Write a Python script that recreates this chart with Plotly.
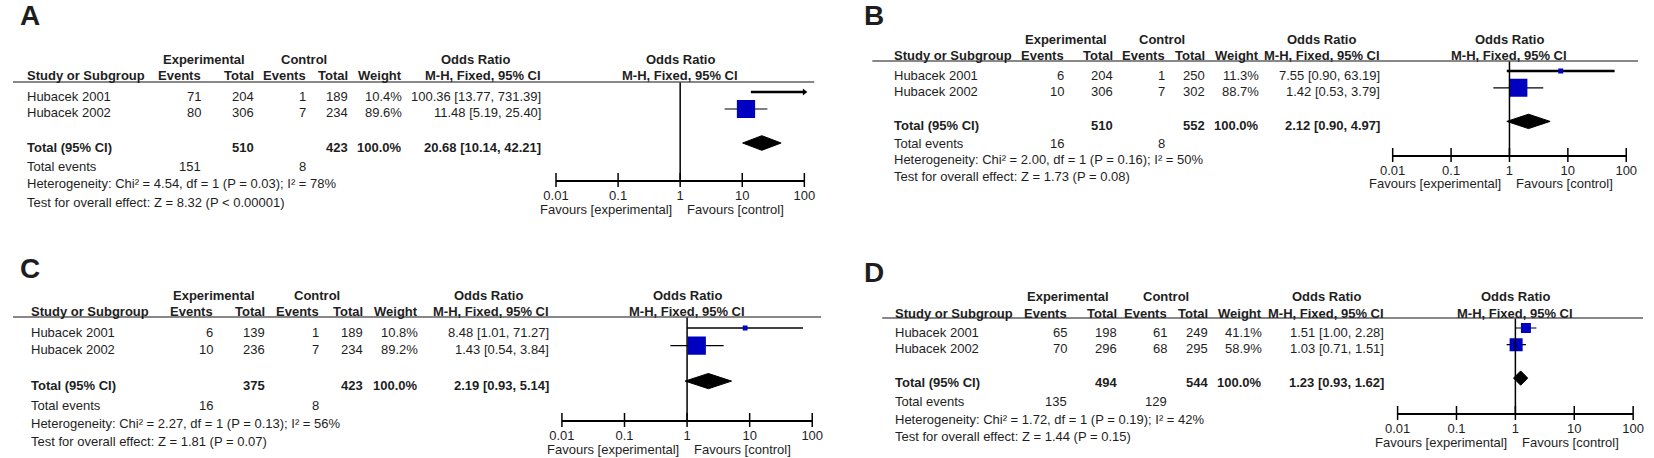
import math
import plotly.graph_objects as go

W, H = 1654, 458

# ---- data (A, B, C, D) ----
panel_labels = ["A", "B", "C", "D"]
studies = ["Hubacek 2001", "Hubacek 2002"]

exp_events = [[71, 80], [6, 10], [6, 10], [65, 70]]
exp_total = [[204, 306], [204, 306], [139, 236], [198, 296]]
ctl_events = [[1, 7], [1, 7], [1, 7], [61, 68]]
ctl_total = [[189, 234], [250, 302], [189, 234], [249, 295]]
weights = [[10.4, 89.6], [11.3, 88.7], [10.8, 89.2], [41.1, 58.9]]
odds = [[100.36, 11.48], [7.55, 1.42], [8.48, 1.43], [1.51, 1.03]]
ci_low = [[13.77, 5.19], [0.90, 0.53], [1.01, 0.54], [1.00, 0.71]]
ci_high = [[731.39, 25.40], [63.19, 3.79], [71.27, 3.84], [2.28, 1.51]]

pooled_or = [20.68, 2.12, 2.19, 1.23]
pooled_low = [10.14, 0.90, 0.93, 0.93]
pooled_high = [42.21, 4.97, 5.14, 1.62]
sum_exp_total = [510, 510, 375, 494]
sum_ctl_total = [423, 552, 423, 544]
sum_exp_events = [151, 16, 16, 135]
sum_ctl_events = [8, 8, 8, 129]
chi2 = [4.54, 2.00, 2.27, 1.72]
het_df = [1, 1, 1, 1]
het_p = ["0.03", "0.16", "0.13", "0.19"]
i2 = [78, 50, 56, 42]
z_overall = [8.32, 1.73, 1.81, 1.44]
p_overall = ["P < 0.00001", "P = 0.08", "P = 0.07", "P = 0.15"]

tick_vals = [0.01, 0.1, 1, 10, 100]
tick_text = ["0.01", "0.1", "1", "10", "100"]

# ---- pixel layout of each panel ----
# cols = right edges of: exp events, exp total, ctl events, ctl total, weight, OR text
geo = [
    dict(letter=(5, 15), line_x=(0, 813), study_x=12, cols=[193, 247, 299, 342, 397, 538],
         exp_c=194, ctl_c=295, or_c=469, plot_x=(551, 803), ci_w=[2.4, 1.2],
         hdr1=59, hdr2=76, top=82, r1=96, rowh=17, tev=166, het=183, test=202, axis=180, fav=209),
    dict(letter=(862, 15), line_x=(872, 1649), study_x=892, cols=[1069, 1118, 1171, 1212, 1266, 1389],
         exp_c=1068, ctl_c=1166, or_c=1328, plot_x=(1400, 1637), ci_w=[2.4, 1.2],
         hdr1=39, hdr2=55, top=61, r1=75, rowh=16.8, tev=143, het=160, test=177, axis=155, fav=183),
    dict(letter=(5, 268), line_x=(0, 820), study_x=16, cols=[205, 258, 313, 357, 413, 546],
         exp_c=204, ctl_c=308, or_c=482, plot_x=(557, 811), ci_w=[1.6, 1.2],
         hdr1=295, hdr2=311, top=317, r1=332, rowh=17.7, tev=405, het=423, test=441, axis=420, fav=449),
    dict(letter=(862, 272), line_x=(882, 1654), study_x=893, cols=[1072, 1122, 1173, 1215, 1269, 1393],
         exp_c=1071, ctl_c=1170, or_c=1333, plot_x=(1405, 1644), ci_w=[1.2, 1.2],
         hdr1=296, hdr2=313, top=318, r1=332, rowh=16.7, tev=401, het=419, test=436, axis=413, fav=442),
]
MARK_DY = -4  # the plotted marks sit a few pixels above the text rows

FONT = "Arial, Liberation Sans, sans-serif"
TXT = "#1e1e1e"
BLUE = "#0000c0"

fig = go.Figure()
annotations = []
shapes = []


def px(x):
    return x / W


def py(y):
    return 1 - y / H


def add_text(x, y, s, anchor="left", bold=False, size=13):
    annotations.append(dict(
        xref="paper", yref="paper", x=px(x), y=py(y), showarrow=False,
        text=f"<b>{s}</b>" if bold else s, xanchor=anchor, yanchor="middle",
        font=dict(family=FONT, size=size, color=TXT)))


layout_axes = {}
for k in range(4):
    g = geo[k]
    xa = "x" if k == 0 else f"x{k + 1}"
    ya = "y" if k == 0 else f"y{k + 1}"
    row_y = [g["r1"] + i * g["rowh"] for i in (0, 1)]
    tot_y = g["r1"] + 3 * g["rowh"]
    c = g["cols"]

    # panel letter
    add_text(g["letter"][0], g["letter"][1], panel_labels[k], bold=True, size=28)

    # headers
    add_text(g["exp_c"], g["hdr1"], "Experimental", anchor="center", bold=True)
    add_text(g["ctl_c"], g["hdr1"], "Control", anchor="center", bold=True)
    add_text(g["or_c"], g["hdr1"], "Odds Ratio", anchor="center", bold=True)
    add_text(g["study_x"], g["hdr2"], "Study or Subgroup", bold=True)
    for col, lab in zip(c, ["Events", "Total", "Events", "Total", "Weight", "M-H, Fixed, 95% CI"]):
        add_text(col, g["hdr2"], lab, anchor="right", bold=True)
    shapes.append(dict(type="line", xref="paper", yref="paper",
                       x0=px(g["line_x"][0]), x1=px(g["line_x"][1]),
                       y0=py(g["top"]), y1=py(g["top"]),
                       line=dict(color="#606060", width=1.5)))

    # study rows
    for i in range(2):
        y = row_y[i]
        add_text(g["study_x"], y, studies[i])
        vals = [str(exp_events[k][i]), str(exp_total[k][i]), str(ctl_events[k][i]),
                str(ctl_total[k][i]), f"{weights[k][i]:.1f}%",
                f"{odds[k][i]:.2f} [{ci_low[k][i]:.2f}, {ci_high[k][i]:.2f}]"]
        for col, v in zip(c, vals):
            add_text(col, y, v, anchor="right")

    # total row
    add_text(g["study_x"], tot_y, "Total (95% CI)", bold=True)
    add_text(c[1], tot_y, str(sum_exp_total[k]), anchor="right", bold=True)
    add_text(c[3], tot_y, str(sum_ctl_total[k]), anchor="right", bold=True)
    add_text(c[4], tot_y, "100.0%", anchor="right", bold=True)
    add_text(c[5], tot_y, f"{pooled_or[k]:.2f} [{pooled_low[k]:.2f}, {pooled_high[k]:.2f}]",
             anchor="right", bold=True)

    add_text(g["study_x"], g["tev"], "Total events")
    add_text(c[0], g["tev"], str(sum_exp_events[k]), anchor="right")
    add_text(c[2], g["tev"], str(sum_ctl_events[k]), anchor="right")
    add_text(g["study_x"], g["het"],
             f"Heterogeneity: Chi² = {chi2[k]:.2f}, df = {het_df[k]} (P = {het_p[k]}); I² = {i2[k]}%")
    add_text(g["study_x"], g["test"], f"Test for overall effect: Z = {z_overall[k]:.2f} ({p_overall[k]})")

    # ---- forest plot on a log axis (row index on y) ----
    r1_mark = g["r1"] + MARK_DY
    y_bottom = (g["axis"] - r1_mark) / g["rowh"]
    y_top = (g["top"] - r1_mark) / g["rowh"]
    xmax = tick_vals[-1]

    for i in range(2):
        hi = min(ci_high[k][i], xmax)
        fig.add_trace(go.Scatter(x=[ci_low[k][i], hi], y=[i, i], mode="lines",
                                 line=dict(color="black", width=g["ci_w"][i]),
                                 xaxis=xa, yaxis=ya, hoverinfo="skip"))
        if ci_high[k][i] > xmax:
            fig.add_trace(go.Scatter(x=[xmax], y=[i], mode="markers", cliponaxis=False,
                                     marker=dict(symbol="triangle-right", size=6, color="black"),
                                     xaxis=xa, yaxis=ya, hoverinfo="skip"))
        fig.add_trace(go.Scatter(x=[odds[k][i]], y=[i], mode="markers",
                                 marker=dict(symbol="square", size=3 + 0.17 * weights[k][i],
                                             color=BLUE, line=dict(width=0)),
                                 xaxis=xa, yaxis=ya, hoverinfo="skip"))

    h = 0.43
    fig.add_trace(go.Scatter(
        x=[pooled_low[k], pooled_or[k], pooled_high[k], pooled_or[k], pooled_low[k]],
        y=[3, 3 - h, 3, 3 + h, 3], mode="lines", fill="toself", fillcolor="black",
        line=dict(color="black", width=1), xaxis=xa, yaxis=ya, hoverinfo="skip"))

    # line of no effect
    fig.add_trace(go.Scatter(x=[1, 1], y=[y_bottom, y_top], mode="lines",
                             line=dict(color="black", width=1.5),
                             xaxis=xa, yaxis=ya, hoverinfo="skip"))
    # ticks crossing the axis line
    fig.add_trace(go.Scatter(x=tick_vals, y=[y_bottom] * len(tick_vals), mode="markers",
                             cliponaxis=False,
                             marker=dict(symbol="line-ns", size=10,
                                         line=dict(color="black", width=1.5)),
                             xaxis=xa, yaxis=ya, hoverinfo="skip"))

    annotations.append(dict(xref=xa, yref="paper", x=0, y=py(g["hdr1"]), showarrow=False,
                            text="<b>Odds Ratio</b>", xanchor="center", yanchor="middle",
                            font=dict(family=FONT, size=13, color=TXT)))
    annotations.append(dict(xref=xa, yref="paper", x=0, y=py(g["hdr2"]), showarrow=False,
                            text="<b>M-H, Fixed, 95% CI</b>", xanchor="center", yanchor="middle",
                            font=dict(family=FONT, size=13, color=TXT)))
    annotations.append(dict(xref=xa, yref="paper", x=0, y=py(g["fav"]), showarrow=False,
                            text="Favours [experimental]", xanchor="right", yanchor="middle",
                            xshift=-6, font=dict(family=FONT, size=13, color=TXT)))
    annotations.append(dict(xref=xa, yref="paper", x=0, y=py(g["fav"]), showarrow=False,
                            text="Favours [control]", xanchor="left", yanchor="middle",
                            xshift=5, font=dict(family=FONT, size=13, color=TXT)))

    xname = "xaxis" if k == 0 else f"xaxis{k + 1}"
    yname = "yaxis" if k == 0 else f"yaxis{k + 1}"
    layout_axes[xname] = dict(
        type="log", domain=[px(g["plot_x"][0]), px(g["plot_x"][1])],
        range=[math.log10(tick_vals[0]), math.log10(tick_vals[-1])],
        anchor=ya, showline=True, linecolor="black", linewidth=1.5,
        showgrid=False, zeroline=False, ticks="",
        tickvals=tick_vals, ticktext=tick_text, ticklabelstandoff=3,
        tickfont=dict(family=FONT, size=13, color=TXT), fixedrange=True)
    layout_axes[yname] = dict(
        domain=[py(g["axis"]), py(g["top"])], range=[y_bottom, y_top],
        anchor=xa, visible=False, showgrid=False, zeroline=False, fixedrange=True)

fig.update_layout(
    width=W, height=H,
    margin=dict(l=0, r=0, t=0, b=0),
    paper_bgcolor="white", plot_bgcolor="white",
    showlegend=False,
    annotations=annotations, shapes=shapes,
    font=dict(family=FONT, size=13, color=TXT),
    **layout_axes,
)

# the page body has a default 8px margin; drop it so the figure fills the window
fig.write_html("out.html", config={"displayModeBar": False},
               post_script="document.body.style.margin = '0';")
